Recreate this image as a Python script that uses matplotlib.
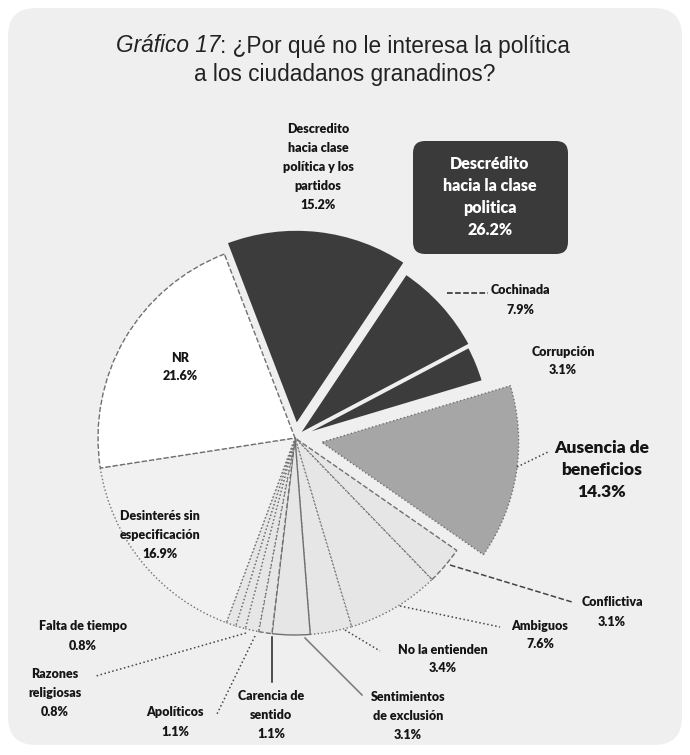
import matplotlib.pyplot as plt
from matplotlib.patches import FancyBboxPatch

# data
labels = ['Descredito\nhacia clase\npolítica y los\npartidos', 'Cochinada', 'Corrupción',
          'Ausencia de\nbeneficios', 'Conflictiva', 'Ambiguos', 'No la entienden',
          'Sentimientos\nde exclusión', 'Carencia de\nsentido', 'Apolíticos',
          'Razones\nreligiosas', 'Falta de tiempo', 'Desinterés sin\nespecificación', 'NR']
values = [15.2, 7.9, 3.1, 14.3, 3.1, 7.6, 3.4, 3.1, 1.1, 1.1, 0.8, 0.8, 16.9, 21.6]
group_label = 'Descrédito\nhacia la clase\npolitica'
group_value = 26.2

plt.rcParams['font.family'] = ['Lato', 'DejaVu Sans']

W, H = 690, 755
fig = plt.figure(figsize=(W / 100, H / 100), dpi=100)
ax = fig.add_axes([0, 0, 1, 1])


def Y(y):
    return H - y


colors = ['#3c3c3c', '#3c3c3c', '#3c3c3c', '#a6a6a6', '#e6e6e6', '#e6e6e6', '#e6e6e6',
          '#e6e6e6', '#e6e6e6', '#e6e6e6', '#e6e6e6', '#e6e6e6', '#f1f1f1', '#ffffff']
explode = [12, 2, 0, 27, 0, 0, 0, 0, 0, 0, 0, 0, 0, 0]  # offsets in px
styles = ['-', '-', '-', ':', '--', ':', ':', '-', '--', ':', ':', ':', ':', '--']

wedges, _ = ax.pie(values, startangle=111, counterclock=False, colors=colors, explode=explode,
                   center=(295, Y(438)), radius=197, frame=True)
ax.set_xlim(0, W)
ax.set_ylim(0, H)
ax.set_aspect('equal')
ax.axis('off')
fig.patch.set_facecolor('white')
for i, w in enumerate(wedges):
    w.set_zorder(2)
    if i < 3:
        w.set_edgecolor('#efefef')
        w.set_linewidth(2.5)
    else:
        w.set_edgecolor('#707070')
        w.set_linewidth(1.0)
        w.set_linestyle(styles[i])

# panel
ax.add_patch(FancyBboxPatch((8, Y(745)), 674, 737, boxstyle='round,pad=0,rounding_size=28',
                            fc='#efefef', ec='none', zorder=0))

tfont = ['Liberation Sans', 'DejaVu Sans']
t1 = ax.text(116, Y(46), 'Gráfico 17', fontsize=16.3, style='italic', ha='left', va='center',
             color='#222222', family=tfont)
fig.canvas.draw()
bb = t1.get_window_extent()
ax.text(116 + bb.width, Y(46), ': ¿Por qué no le interesa la política', fontsize=16.3,
        ha='left', va='center', color='#222222', family=tfont)
ax.text(345, Y(74), 'a los ciudadanos granadinos?', fontsize=16.3, ha='center', va='center',
        color='#222222', family=tfont)

# group box
ax.add_patch(FancyBboxPatch((413, Y(254)), 155, 113, boxstyle='round,pad=0,rounding_size=12',
                            fc='#3a3a3a', ec='none', zorder=3))
ax.text(490, Y(197), f'{group_label}\n{group_value}%', color='white', fontsize=11.5,
        fontweight='heavy', ha='center', va='center', linespacing=1.45, zorder=4)

lab = dict(fontsize=9, fontweight='heavy', ha='center', va='center', linespacing=1.7,
           color='#151515')
pos = [(318, 167), (520, 300), (563, 361), (602, 470), (612, 612), (540, 635),
       (443, 659), (408, 716), (271, 715), (175, 722), (55, 693), (83, 636),
       (160, 535), (180, 367)]
for i, (x, y) in enumerate(pos):
    kw = dict(lab)
    if i == 3:
        kw['fontsize'] = 12.5
        kw['linespacing'] = 1.45
    ax.text(x, Y(y), f'{labels[i]}\n{values[i]}%', **kw)

# leader lines
leaders = [
    ((447, 293), (488, 293), '--', '#222222'),
    ((517, 467), (548, 452), ':', '#444444'),
    ((450, 565), (572, 602), '--', '#444444'),
    ((400, 606), (500, 627), ':', '#444444'),
    ((345, 630), (380, 651), ':', '#444444'),
    ((305, 638), (362, 695), '-', '#777777'),
    ((272, 637), (272, 682), '-', '#222222'),
    ((255, 636), (216, 716), ':', '#444444'),
    ((246, 633), (96, 676), ':', '#444444'),
]
for (x1, y1), (x2, y2), ls, c in leaders:
    ax.plot([x1, x2], [Y(y1), Y(y2)], ls=ls, color=c, lw=1.1, zorder=5)

fig.savefig('out.png', dpi=100, facecolor='white')
